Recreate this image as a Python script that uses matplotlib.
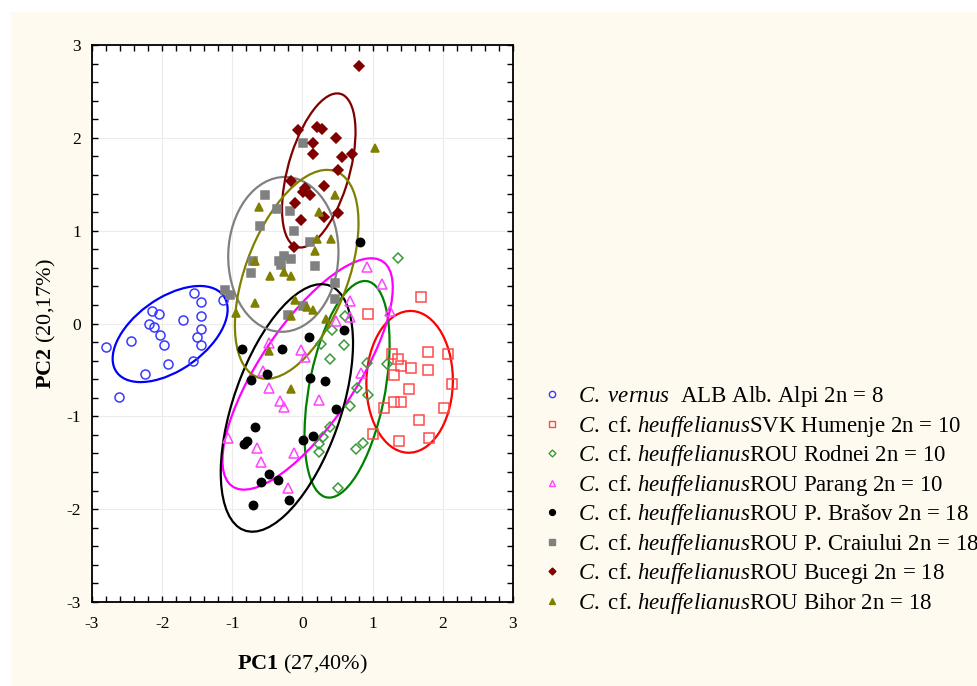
import numpy as np
import matplotlib
matplotlib.use("Agg")
import matplotlib.pyplot as plt
from matplotlib.patches import Ellipse, Rectangle
from matplotlib.lines import Line2D

plt.rcParams['font.family'] = ['Liberation Serif', 'DejaVu Serif']
plt.rcParams['mathtext.fontset'] = 'custom'
plt.rcParams['mathtext.rm'] = 'Liberation Serif'
plt.rcParams['mathtext.it'] = 'Liberation Serif:italic'
plt.rcParams['mathtext.bf'] = 'Liberation Serif:bold'
plt.rcParams['axes.unicode_minus'] = False

# ---- data (PC1, PC2) ----
vernus_x = [-1.55, -1.44, -1.14, -2.14, -2.05, -1.70, -1.44, -2.19, -2.11, -2.03,
            -1.44, -1.51, -1.97, -1.44, -2.44, -2.80, -1.56, -1.92, -2.25, -2.61]
vernus_y = [0.33, 0.23, 0.25, 0.14, 0.10, 0.04, 0.08, 0.00, -0.04, -0.12,
            -0.06, -0.15, -0.23, -0.23, -0.19, -0.25, -0.40, -0.44, -0.54, -0.79]

humenje_x = [1.69, 0.94, 1.27, 1.36, 1.41, 1.55, 1.79, 1.79, 2.07, 1.30,
             2.13, 1.52, 1.16, 1.30, 1.40, 2.01, 1.66, 1.00, 1.38, 1.80]
humenje_y = [0.29, 0.10, -0.33, -0.38, -0.46, -0.48, -0.31, -0.50, -0.33, -0.56,
             -0.65, -0.71, -0.91, -0.85, -0.85, -0.91, -1.04, -1.19, -1.27, -1.23]

rodnei_x = [1.36, 0.61, 0.42, 0.27, 0.59, 0.39, 0.92, 1.20, 0.78, 0.94,
            0.67, 0.39, 0.29, 0.24, 0.23, 0.86, 0.76, 0.51]
rodnei_y = [0.71, 0.08, -0.07, -0.22, -0.23, -0.38, -0.43, -0.44, -0.69, -0.77,
            -0.89, -1.12, -1.22, -1.30, -1.38, -1.29, -1.35, -1.77]

parang_x = [0.92, 1.14, 0.67, 1.24, 0.48, 0.67, -0.02, 0.04, 0.83, 0.23,
            -0.12, -0.48, -0.48, -0.32, -0.26, -0.57, -1.06, -0.65, -0.59, -0.21]
parang_y = [0.61, 0.43, 0.24, 0.13, 0.03, 0.07, -0.29, -0.36, -0.53, -0.82,
            -1.40, -0.21, -0.69, -0.84, -0.90, -0.51, -1.23, -1.34, -1.49, -1.77]

brasov_x = [-0.86, -0.29, 0.09, 0.59, -0.51, -0.73, 0.10, 0.32, 0.48, -0.68,
            -0.84, -0.79, 0.01, 0.15, -0.48, -0.59, -0.35, -0.19, -0.70, 0.82]
brasov_y = [-0.27, -0.27, -0.15, -0.07, -0.54, -0.61, -0.59, -0.62, -0.92, -1.12,
            -1.30, -1.27, -1.25, -1.21, -1.62, -1.71, -1.69, -1.90, -1.96, 0.88]

craiului_x = [0.01, -0.54, -0.37, -0.18, -0.60, -0.12, 0.10, -0.27, -0.16, -0.34,
              -0.31, -0.70, -0.73, 0.18, 0.46, -1.11, -1.04, 0.46, 0.01, -0.21]
craiului_y = [1.94, 1.38, 1.23, 1.21, 1.05, 1.00, 0.88, 0.73, 0.69, 0.67,
              0.63, 0.67, 0.54, 0.62, 0.44, 0.36, 0.31, 0.26, 0.19, 0.09]

bucegi_x = [0.81, -0.07, 0.20, 0.28, 0.48, 0.15, 0.15, 0.56, 0.70, 0.51,
            -0.16, 0.03, 0.01, 0.31, 0.10, -0.10, 0.51, -0.02, 0.31, -0.12]
bucegi_y = [2.77, 2.08, 2.12, 2.10, 2.00, 1.94, 1.83, 1.79, 1.83, 1.65,
            1.54, 1.46, 1.42, 1.48, 1.38, 1.30, 1.19, 1.12, 1.15, 0.82]

bihor_x = [1.03, 0.47, -0.62, 0.23, 0.21, 0.40, 0.18, -0.68, -0.47, -0.27,
           -0.16, -0.68, -0.95, -0.10, 0.07, 0.15, -0.16, 0.34, -0.48, -0.16]
bihor_y = [1.89, 1.38, 1.25, 1.20, 0.91, 0.91, 0.78, 0.67, 0.51, 0.55,
           0.51, 0.22, 0.11, 0.25, 0.18, 0.15, 0.08, 0.05, -0.30, -0.71]

labels = [
    r"$\mathit{C.\ vernus}$  ALB Alb. Alpi 2n = 8",
    r"$\mathit{C.}$ cf. $\mathit{heuffelianus}$SVK Humenje 2n = 10",
    r"$\mathit{C.}$ cf. $\mathit{heuffelianus}$ROU Rodnei 2n = 10",
    r"$\mathit{C.}$ cf. $\mathit{heuffelianus}$ROU Parang 2n = 10",
    r"$\mathit{C.}$ cf. $\mathit{heuffelianus}$ROU P. Brašov 2n = 18",
    r"$\mathit{C.}$ cf. $\mathit{heuffelianus}$ROU P. Craiului 2n = 18",
    r"$\mathit{C.}$ cf. $\mathit{heuffelianus}$ROU Bucegi 2n = 18",
    r"$\mathit{C.}$ cf. $\mathit{heuffelianus}$ROU Bihor 2n = 18",
]

groups = [
    (vernus_x, vernus_y), (humenje_x, humenje_y), (rodnei_x, rodnei_y),
    (parang_x, parang_y), (brasov_x, brasov_y), (craiului_x, craiului_y),
    (bucegi_x, bucegi_y), (bihor_x, bihor_y),
]

# ---- styles ----
line_colors = ['#0000ff', '#ff0000', '#008000', '#ff00ff', '#000000', '#808080', '#800000', '#808000']
mk_colors = ['#3a3aff', '#ff4a4a', '#3a9a3a', '#ff44ff', '#000000', '#808080', '#800000', '#808000']
markers = ['o', 's', 'D', '^', 'o', 's', 'D', '^']
filled = [False, False, False, False, True, True, True, True]
msizes = [6.5, 6.6, 5.0, 6.8, 6.0, 5.8, 5.0, 6.2]
K = 1.83

fig = plt.figure(figsize=(9.78, 6.86), dpi=100)
fig.patch.set_facecolor('white')
bg = Rectangle((11 / 978, 0), 1, 1 - 12 / 686, transform=fig.transFigure,
               facecolor='#fefaef', edgecolor='none', zorder=-10)
fig.add_artist(bg)

ax = fig.add_axes([92 / 978, 1 - 602 / 686, 421 / 978, 557 / 686])
ax.set_zorder(1)
ax.set_facecolor('white')
ax.set_xlim(-3, 3)
ax.set_ylim(-3, 3)
ax.set_xticks(np.arange(-3, 4, 1))
ax.set_yticks(np.arange(-3, 4, 1))
ax.set_xticks(np.arange(-3, 3.01, 0.2), minor=True)
ax.set_yticks(np.arange(-3, 3.01, 0.2), minor=True)
ax.tick_params(which='both', direction='in', top=True, right=True, length=4,
               width=1.0, labelsize=12.5)
ax.tick_params(axis='x', pad=10)
ax.tick_params(axis='y', pad=8)
ax.grid(True, which='major', color='#ececec', linewidth=0.8)
ax.set_axisbelow(True)
for s in ax.spines.values():
    s.set_linewidth(1.3)

handles = []
for i, (gx, gy) in enumerate(groups):
    gx = np.asarray(gx); gy = np.asarray(gy)
    mfc = mk_colors[i] if filled[i] else 'none'
    ax.plot(gx, gy, linestyle='none', marker=markers[i], markersize=msizes[i],
            markerfacecolor=mfc, markeredgecolor=mk_colors[i], markeredgewidth=1.1,
            zorder=3)
    cov = np.cov(gx, gy)
    vals, vecs = np.linalg.eigh(cov)
    order = vals.argsort()[::-1]
    vals, vecs = vals[order], vecs[:, order]
    ang = np.degrees(np.arctan2(vecs[1, 0], vecs[0, 0]))
    e = Ellipse((gx.mean(), gy.mean()), 2 * K * np.sqrt(vals[0]), 2 * K * np.sqrt(vals[1]),
                angle=ang, facecolor='none', edgecolor=line_colors[i], linewidth=1.6, zorder=2)
    ax.add_patch(e)
    handles.append(Line2D([], [], linestyle='none', marker=markers[i],
                          markersize=msizes[i] * 0.7, markerfacecolor=mfc,
                          markeredgecolor=mk_colors[i], markeredgewidth=1.0))

ax.set_xlabel(r"$\mathbf{PC1}$ (27,40%)", fontsize=16, labelpad=15)
ax.set_ylabel(r"$\mathbf{PC2}$ (20,17%)", fontsize=16, labelpad=6)

fig.legend(handles, labels, loc='upper left', bbox_to_anchor=(541 / 978, 1 - 384 / 686),
           frameon=False, fontsize=16.5, handlelength=1.0, handletextpad=0.6,
           labelspacing=0.2, borderpad=0, borderaxespad=0)

fig.savefig('out.png', dpi=100)
